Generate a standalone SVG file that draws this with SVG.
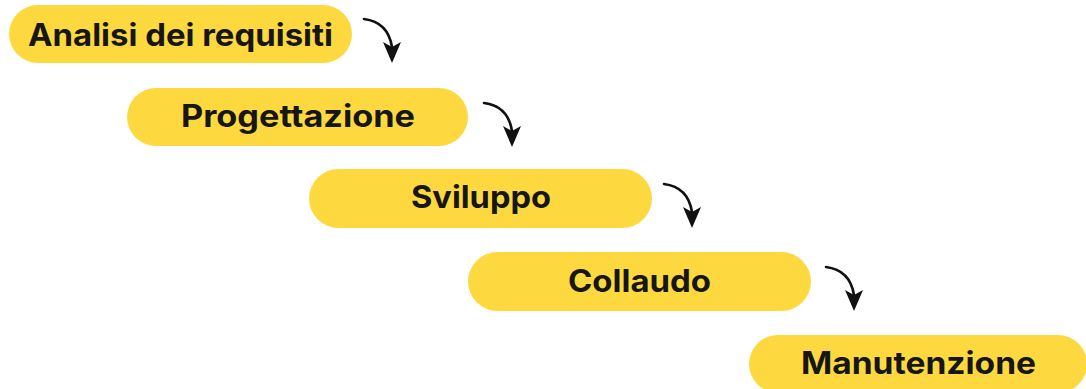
<svg xmlns="http://www.w3.org/2000/svg" width="1086" height="389" viewBox="0 0 1086 389">
  <style>
    .pill { fill: #FDD93F; }
    .lbl { font-family: Inter, "Noto Sans", "Liberation Sans", sans-serif; font-weight: 700; font-size: 31px; fill: #161616; text-anchor: middle; }
    .arc { fill: none; stroke: #111; stroke-width: 2.6; stroke-linecap: round; }
    .head { fill: #111; }
  </style>
  <defs>
    <g id="arrow">
      <path class="arc" d="M0,0 Q24,3 28,28"/>
      <polygon class="head" points="19,23 28,28 37,23 28,44"/>
    </g>
  </defs>
  <rect width="1086" height="389" fill="#ffffff"/>
  <g id="n1">
    <rect class="pill" x="9" y="5" width="343" height="58" rx="29"/>
    <text class="lbl" x="180.5" y="46" textLength="305" lengthAdjust="spacingAndGlyphs">Analisi dei requisiti</text>
  </g>
  <g id="n2">
    <rect class="pill" x="127" y="88" width="341" height="58" rx="29"/>
    <text class="lbl" x="298" y="127" textLength="234" lengthAdjust="spacingAndGlyphs">Progettazione</text>
  </g>
  <g id="n3">
    <rect class="pill" x="309" y="169" width="343" height="59" rx="29.5"/>
    <text class="lbl" x="481" y="208" textLength="140" lengthAdjust="spacingAndGlyphs">Sviluppo</text>
  </g>
  <g id="n4">
    <rect class="pill" x="468" y="252" width="343" height="59" rx="29.5"/>
    <text class="lbl" x="639.5" y="292" textLength="143" lengthAdjust="spacingAndGlyphs">Collaudo</text>
  </g>
  <g id="n5">
    <rect class="pill" x="749" y="335" width="338" height="58" rx="29"/>
    <text class="lbl" x="918.5" y="374" textLength="235" lengthAdjust="spacingAndGlyphs">Manutenzione</text>
  </g>
  <g id="connectors">
    <use href="#arrow" x="364" y="19"/>
    <use href="#arrow" x="484" y="103"/>
    <use href="#arrow" x="664" y="184"/>
    <use href="#arrow" x="826" y="267"/>
  </g>
</svg>
